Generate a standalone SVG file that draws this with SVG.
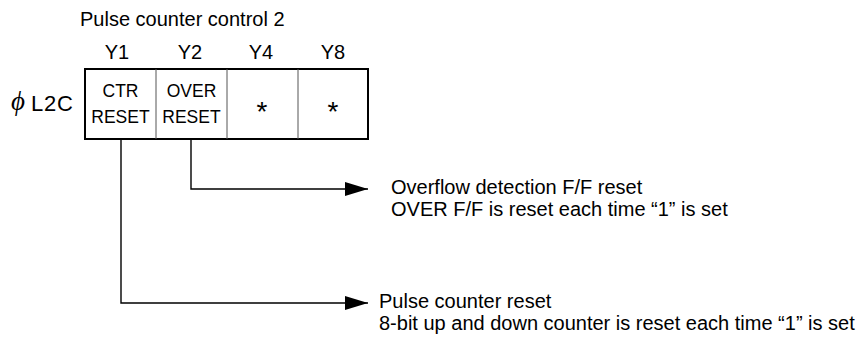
<svg xmlns="http://www.w3.org/2000/svg" width="859" height="337" viewBox="0 0 859 337">
<style>
text{font-family:"Liberation Sans",Arial,sans-serif;fill:#000}
.t{font-size:20px}
.y{font-size:20px;text-anchor:middle}
.c{font-size:17.5px;text-anchor:middle}
.s{font-size:28px;text-anchor:middle}
.d{font-size:20px}
.ln{fill:none;stroke:#000;stroke-width:1.4}
.div{stroke:#555;stroke-width:1}
</style>
<defs>
<marker id="ah" markerUnits="userSpaceOnUse" markerWidth="24" markerHeight="16" refX="23" refY="7" orient="auto">
<polygon points="0,0 23,7 0,14" fill="#000"/>
</marker>
</defs>
<text class="t" x="80" y="26">Pulse counter control 2</text>
<g id="reg">
<text x="11" y="110" style="font-size:27px;font-family:'Liberation Serif',serif;font-style:italic">ϕ</text>
<text x="31" y="111" style="font-size:22px;letter-spacing:0.8px">L2C</text>
<rect x="85" y="69" width="283" height="70" fill="#fff" stroke="#000" stroke-width="2"/>
<line class="div" x1="156" y1="69" x2="156" y2="139"/>
<line class="div" x1="227" y1="69" x2="227" y2="139"/>
<line class="div" x1="298" y1="69" x2="298" y2="139"/>
</g>
<g id="y1"><text class="y" x="117" y="59">Y1</text><text class="c" x="120.5" y="97">CTR</text><text class="c" x="120.5" y="123">RESET</text></g>
<g id="y2"><text class="y" x="190" y="59">Y2</text><text class="c" x="191.5" y="97">OVER</text><text class="c" x="191.5" y="123">RESET</text></g>
<g id="y4"><text class="y" x="261" y="59">Y4</text><text class="s" x="262" y="121">*</text></g>
<g id="y8"><text class="y" x="333" y="59">Y8</text><text class="s" x="333" y="121">*</text></g>
<g id="connectors">
<polyline class="ln" points="191,139 191,189 368,189" marker-end="url(#ah)"/>
<polyline class="ln" points="121,139 121,303 368,303" marker-end="url(#ah)"/>
</g>
<g id="overflow">
<text class="d" x="391" y="194">Overflow detection F/F reset</text>
<text class="d" x="391" y="216">OVER F/F is reset each time “1” is set</text>
</g>
<g id="pulse">
<text class="d" x="379" y="308">Pulse counter reset</text>
<text class="d" x="379" y="330">8-bit up and down counter is reset each time “1” is set</text>
</g>
</svg>
